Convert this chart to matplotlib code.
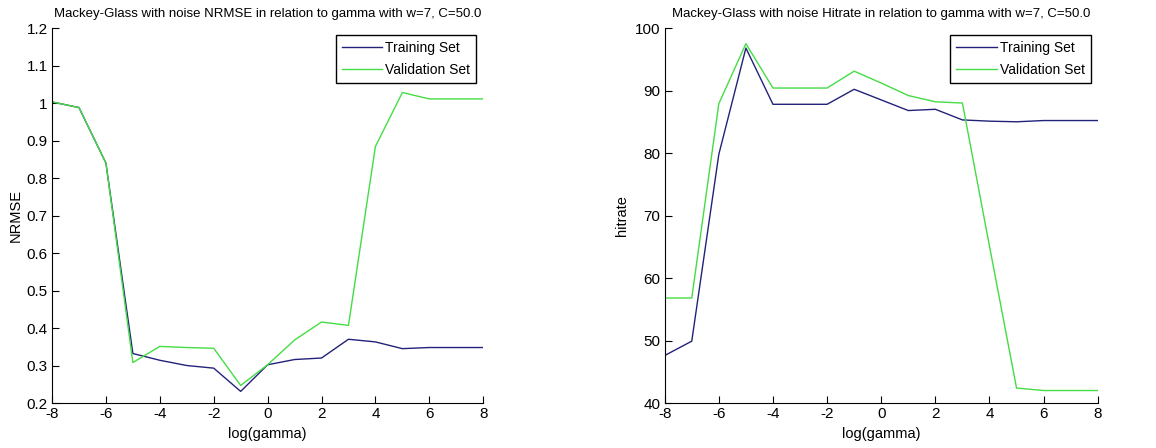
import numpy as np
import matplotlib
matplotlib.use("Agg")
import matplotlib.pyplot as plt

plt.rcParams['font.family'] = ['Liberation Sans', 'DejaVu Sans']
plt.rcParams['axes.unicode_minus'] = False

# log(gamma) values
log_gamma = [-8, -7, -6, -5, -4, -3, -2, -1, 0, 1, 2, 3, 4, 5, 6, 7, 8]

# NRMSE
nrmse_train = [1.003, 0.988, 0.84, 0.332, 0.314, 0.300, 0.293, 0.231, 0.302,
               0.316, 0.320, 0.370, 0.363, 0.345, 0.348, 0.348, 0.348]
nrmse_valid = [1.003, 0.988, 0.84, 0.308, 0.351, 0.348, 0.346, 0.247, 0.302,
               0.368, 0.416, 0.407, 0.884, 1.028, 1.011, 1.011, 1.011]

# hitrate
hit_train = [47.6, 49.9, 79.8, 96.8, 87.8, 87.8, 87.8, 90.2, 88.5,
             86.8, 87.0, 85.3, 85.1, 85.0, 85.2, 85.2, 85.2]
hit_valid = [56.8, 56.8, 87.9, 97.5, 90.4, 90.4, 90.4, 93.1, 91.2,
             89.2, 88.2, 88.0, 65.1, 42.4, 42.0, 42.0, 42.0]

train_color = '#22227a'
valid_color = '#44dd44'

fig = plt.figure(figsize=(11.56, 4.48), dpi=100)
ax1 = fig.add_axes([0.045, 0.1004, 0.373, 0.837])
ax2 = fig.add_axes([0.575, 0.1004, 0.3746, 0.837])


def style_axes(ax):
    ax.spines['top'].set_visible(False)
    ax.spines['right'].set_visible(False)
    ax.tick_params(direction='in', length=5, labelsize=11, pad=3)
    ax.set_xlim(-8, 8)
    ax.set_xticks(range(-8, 9, 2))
    ax.set_xlabel('log(gamma)', fontsize=10.5, labelpad=4)
    leg = ax.legend(loc='upper right', fontsize=10, handlelength=2.9,
                    fancybox=False, framealpha=1, borderaxespad=0.5,
                    handletextpad=0.2, labelspacing=0.55, borderpad=0.45)
    leg.get_frame().set_edgecolor('black')


ax1.plot(log_gamma, nrmse_train, color=train_color, lw=1, label='Training Set')
ax1.plot(log_gamma, nrmse_valid, color=valid_color, lw=1, label='Validation Set')
ax1.set_ylim(0.2, 1.2)
ax1.set_yticks(np.arange(0.2, 1.21, 0.1))
ax1.set_yticklabels(['0.2', '0.3', '0.4', '0.5', '0.6', '0.7', '0.8', '0.9', '1', '1.1', '1.2'])
ax1.set_ylabel('NRMSE', fontsize=10.5, labelpad=3)
ax1.set_title('Mackey-Glass with noise NRMSE in relation to gamma with w=7, C=50.0',
              fontsize=9.5, pad=8)
style_axes(ax1)

ax2.plot(log_gamma, hit_train, color=train_color, lw=1, label='Training Set')
ax2.plot(log_gamma, hit_valid, color=valid_color, lw=1, label='Validation Set')
ax2.set_ylim(40, 100)
ax2.set_yticks(range(40, 101, 10))
ax2.set_ylabel('hitrate', fontsize=10.5, labelpad=4)
ax2.set_title('Mackey-Glass with noise Hitrate in relation to gamma with w=7, C=50.0',
              fontsize=9.5, pad=8)
style_axes(ax2)

fig.savefig('out.png', dpi=100)
